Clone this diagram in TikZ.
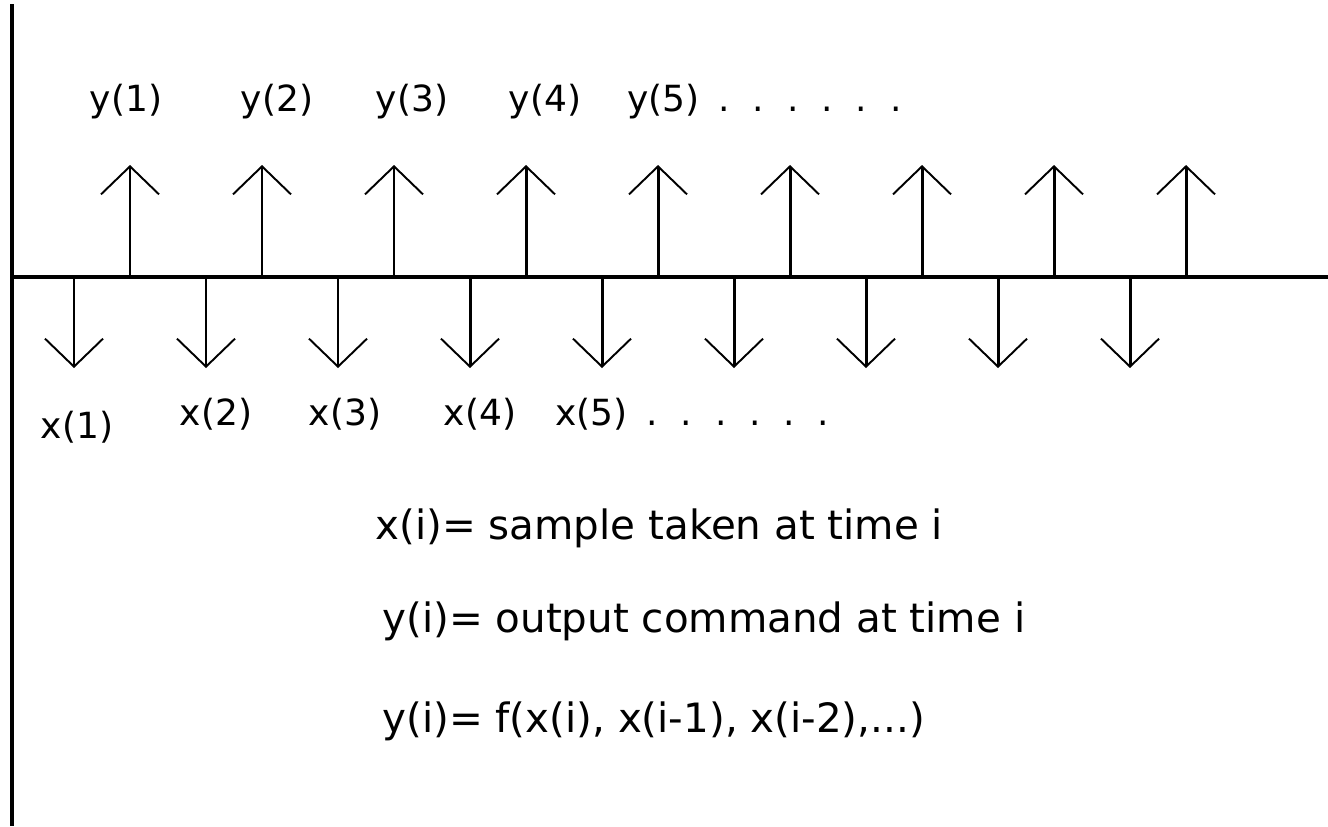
\documentclass[tikz,border=0pt]{standalone}
\usepackage{fontspec}
\setmainfont{DejaVu Sans}
\usetikzlibrary{arrows.meta}

\begin{document}
\begin{tikzpicture}[x=0.02cm,y=-0.02cm]
\tikzset{
	axisline/.style={line width=2.2pt},
	stem/.style={line width=1.7pt,
		-{Straight Barb[length=0.56cm, width=1.16cm, line width=1.1pt]}},
	samplelbl/.style={inner sep=0pt,
		font=\fontsize{20.5}{24}\selectfont,
		execute at begin node={\spaceskip=0.38cm}}, % wide gaps between the dots
	deflbl/.style={inner sep=0pt, anchor=west,
		font=\fontsize{23}{27}\selectfont}
}
\useasboundingbox (0,0) rectangle (1328,826);
\coordinate (TOP) at (12,4);
\coordinate (BOT) at (12,826);
\coordinate (ORG) at (12,277);
\coordinate (END) at (1328,277);
\draw[axisline] (TOP) -- (BOT);
\draw[axisline] (ORG) -- (END);
% outputs go up, samples go down
\foreach \i/\x in {1/130,2/262,3/394,4/526,5/658,6/790,7/922,8/1054,9/1186}
	{\coordinate (YB\i) at (\x,277);
	\coordinate (YT\i) at (\x,165);
	\draw[stem] (YB\i) -- (YT\i);}
\foreach \i/\x in {1/74,2/206,3/338,4/470,5/602,6/734,7/866,8/998,9/1130}
	{\coordinate (XB\i) at (\x,277);
	\coordinate (XT\i) at (\x,368);
	\draw[stem] (XB\i) -- (XT\i);}
\node[samplelbl] (Y1) at (126,102) {y(1)};
\node[samplelbl] (Y2) at (277,102) {y(2)};
\node[samplelbl] (Y3) at (412,102) {y(3)};
\node[samplelbl] (Y4) at (545,102) {y(4)};
\node[samplelbl, anchor=west] (Y5) at (627,102) {y(5) . . . . . .};
\node[samplelbl] (X1) at (77,427) {x(1)};
\node[samplelbl] (X2) at (216,414) {x(2)};
\node[samplelbl] (X3) at (345,414) {x(3)};
\node[samplelbl] (X4) at (480,414) {x(4)};
\node[samplelbl, anchor=west] (X5) at (555,414) {x(5) . . . . . .};
\node[deflbl] (DEFX) at (375,528) {x(i)= sample taken at time i};
\node[deflbl] (DEFY) at (382,621) {y(i)= output command at time i};
\node[deflbl] (DEFF) at (382,721) {y(i)= f(x(i), x(i-1), x(i-2),...)};
\end{tikzpicture}
\end{document}
